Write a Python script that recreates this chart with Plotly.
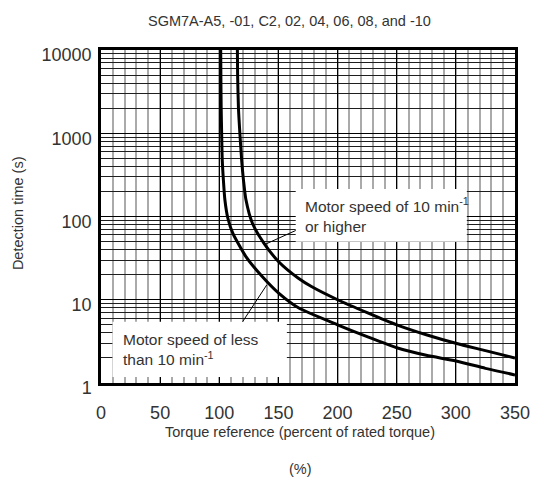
import plotly.graph_objects as go

# ---- data ----
torque_low = [101.2, 101.4, 101.6, 102.0, 102.5, 103.5, 104.7, 107.2, 111.4, 122.5, 136.3, 150.2, 166.9, 200, 225, 250, 275, 300, 325, 350]
time_low = [10000, 4000, 2000, 1000, 480, 270, 160, 96, 63, 33, 19, 12, 8.0, 5.0, 3.6, 2.65, 2.15, 1.84, 1.5, 1.25]

torque_high = [115.3, 115.5, 116.2, 117.4, 118.9, 120.5, 122.5, 128.0, 137.7, 150.2, 166.9, 177.9, 200, 225, 250, 275, 300, 325, 350]
time_high = [10000, 5000, 2000, 1000, 480, 270, 160, 83, 48, 28.6, 18.1, 14.4, 10.0, 7.0, 5.0, 3.8, 3.0, 2.45, 2.0]

x_ticks = [0, 50, 100, 150, 200, 250, 300, 350]

title_text = "SGM7A-A5, -01, C2, 02, 04, 06, 08, and -10"
x_title = "Torque reference (percent of rated torque)"
x_unit = "(%)"
y_title = "Detection time (s)"
label_high = "Motor speed of 10 min<sup>-1</sup><br>or higher"
label_low = "Motor speed of less<br>than 10 min<sup>-1</sup>"

FONT = "Liberation Sans, Arial, Helvetica, sans-serif"
TXT = "#333333"

W, H = 542, 490
L, R, T, B = 101, 20, 50, 107
PW, PH = W - L - R, H - T - B


def px(xp):
    return (xp - L) / PW


def py(yp):
    return (H - B - yp) / PH


fig = go.Figure()
fig.add_trace(go.Scatter(x=torque_low, y=time_low, mode="lines",
                         line=dict(color="black", width=3, shape="spline", smoothing=0.6),
                         showlegend=False, hoverinfo="skip"))
fig.add_trace(go.Scatter(x=torque_high, y=time_high, mode="lines",
                         line=dict(color="black", width=3, shape="spline", smoothing=0.6),
                         showlegend=False, hoverinfo="skip"))

fig.update_layout(
    width=W, height=H,
    margin=dict(l=L, r=R, t=T, b=B, pad=0),
    paper_bgcolor="white", plot_bgcolor="white",
    font=dict(family=FONT, color=TXT),
    showlegend=False,
    xaxis=dict(
        range=[0, 350], tickmode="array", tickvals=x_ticks,
        showgrid=True, gridcolor="black", gridwidth=1.3,
        minor=dict(dtick=10, showgrid=True, gridcolor="#aaaaaa", gridwidth=1.5),
        zeroline=False, showline=True, linecolor="black", linewidth=2.5, mirror=True,
        ticks="", tickfont=dict(size=18, color=TXT, family=FONT),
        ticklabelstandoff=12,
    ),
    yaxis=dict(
        type="log", range=[0, 4], tickmode="linear", tick0=0, dtick=1,
        tickformat="d",
        showgrid=True, gridcolor="black", gridwidth=1.2,
        minor=dict(dtick="D1", showgrid=True, gridcolor="#1e1e1e", gridwidth=1),
        zeroline=False, showline=True, linecolor="black", linewidth=2.5, mirror=True,
        ticks="", tickfont=dict(size=18, color=TXT, family=FONT),
        ticklabelstandoff=3, ticklabelshift=5,
    ),
)

shapes = []
# white label boxes
shapes.append(dict(type="rect", xref="paper", yref="paper",
                   x0=px(299), x1=px(473), y0=py(241.7), y1=py(189),
                   fillcolor="white", line=dict(width=0), layer="above"))
shapes.append(dict(type="rect", xref="paper", yref="paper",
                   x0=px(112.7), x1=px(290), y0=py(377), y1=py(321.7),
                   fillcolor="white", line=dict(width=0), layer="above"))
# leader lines
shapes.append(dict(type="line", xref="paper", yref="paper",
                   x0=px(299), y0=py(230.5), x1=px(267.5), y1=py(244.5),
                   line=dict(color="black", width=1), layer="above"))
shapes.append(dict(type="line", xref="paper", yref="paper",
                   x0=px(245), y0=py(321.7), x1=px(269.5), y1=py(285),
                   line=dict(color="black", width=1), layer="above"))
fig.update_layout(shapes=shapes)

ann = []
ann.append(dict(text=title_text, xref="paper", yref="paper", x=px(292.7), y=py(20.7),
                xanchor="center", yanchor="middle", showarrow=False,
                font=dict(size=14.5, color=TXT, family=FONT)))
ann.append(dict(text=x_title, xref="paper", yref="paper", x=px(303), y=py(431.5),
                xanchor="center", yanchor="middle", showarrow=False,
                font=dict(size=14.5, color=TXT, family=FONT)))
ann.append(dict(text=x_unit, xref="paper", yref="paper", x=px(304), y=py(469),
                xanchor="center", yanchor="middle", showarrow=False,
                font=dict(size=14.5, color=TXT, family=FONT)))
ann.append(dict(text=y_title, xref="paper", yref="paper", x=px(16.7), y=py(213),
                xanchor="center", yanchor="middle", showarrow=False, textangle=-90,
                font=dict(size=14.5, color=TXT, family=FONT)))
ann.append(dict(text=label_high, xref="paper", yref="paper", x=px(306.7), y=py(214.5),
                xanchor="left", yanchor="middle", align="left", showarrow=False,
                font=dict(size=15.5, color=TXT, family=FONT)))
ann.append(dict(text=label_low, xref="paper", yref="paper", x=px(121), y=py(349.5),
                xanchor="left", yanchor="middle", align="left", showarrow=False,
                font=dict(size=15.5, color=TXT, family=FONT)))
fig.update_layout(annotations=ann)

fig.write_html("out.html")
